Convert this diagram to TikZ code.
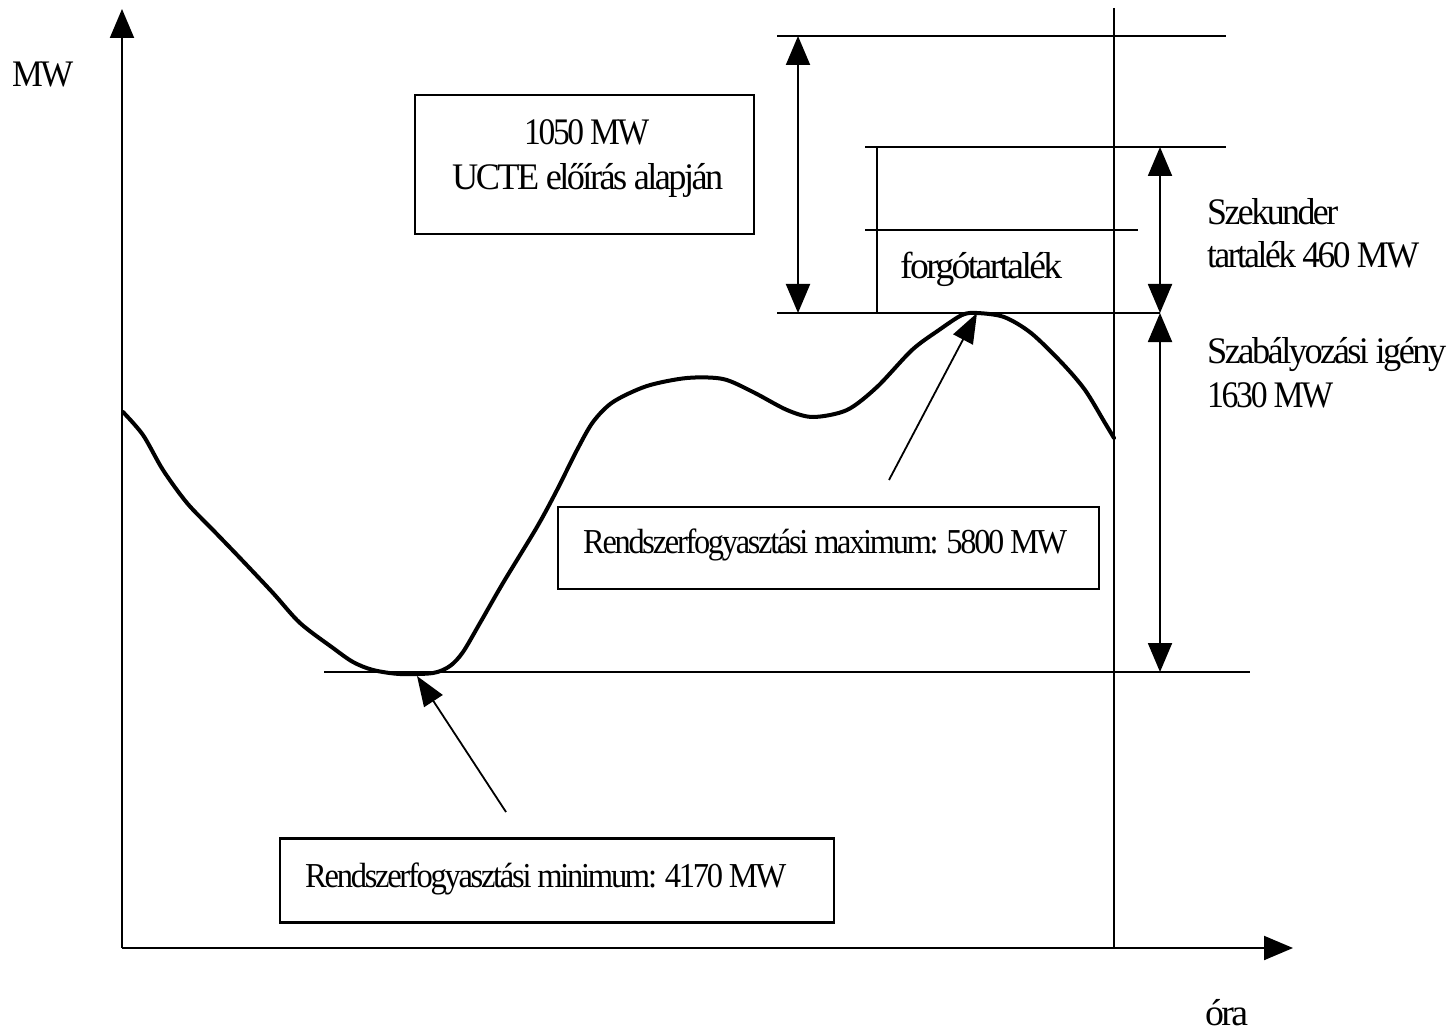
\documentclass[tikz,border=0pt]{standalone}
\usepackage{fontspec}
\setmainfont{Liberation Serif}[LetterSpace=-7]
\usetikzlibrary{arrows.meta}
\newcommand\fitw[2]{\resizebox{#1pt}{\height}{#2}}
\begin{document}
\begin{tikzpicture}[x=1pt,y=-1pt,
  rule/.style={line width=2pt},
  box/.style={draw, line width=2.5pt, inner sep=0pt},
  lbl/.style={inner sep=0pt, anchor=base west, font=\fontsize{37.5}{44}\selectfont},
  lblsmall/.style={inner sep=0pt, anchor=base west, font=\fontsize{35}{40}\selectfont},
  axisarrow/.style={line width=2pt, -{Triangle[length=29pt,width=24pt]}},
  dblarrow/.style={line width=2pt, {Triangle[length=29pt,width=24pt]}-{Triangle[length=29pt,width=24pt]}},
  ptr/.style={line width=1.8pt, -{Triangle[length=30pt,width=22pt]}},
  loadcurve/.style={line width=4pt, line join=round, line cap=round}]
\useasboundingbox (0,0) rectangle (1453,1032);
\fill[white] (0,0) rectangle (1453,1032);

% coordinates
\coordinate (O) at (122,948);
\coordinate (Ytop) at (122,9);
\coordinate (Xend) at (1293,948);
\coordinate (Vtop) at (1114,8);
\coordinate (Vbot) at (1114,948);
\coordinate (T1a) at (777,36);   \coordinate (T1b) at (1226,36);
\coordinate (T2a) at (865,147);  \coordinate (T2b) at (1226,147);
\coordinate (T3a) at (865,230);  \coordinate (T3b) at (1138,230);
\coordinate (S1) at (877,147);   \coordinate (S2) at (877,313);
\coordinate (P1a) at (777,313);  \coordinate (P1b) at (1160,313);
\coordinate (M1a) at (324,672);  \coordinate (M1b) at (1250,672);
\coordinate (A1t) at (798,36);   \coordinate (A1b) at (798,313);
\coordinate (A2t) at (1160,147); \coordinate (A2m) at (1160,313); \coordinate (A2b) at (1160,672);
\coordinate (peak) at (977,313);
\coordinate (trough) at (417,676);
\coordinate (maxtail) at (889,480);
\coordinate (mintail) at (506,812);

% axes and rules
\draw[axisarrow] (O) -- (Ytop);
\draw[axisarrow] (O) -- (Xend);
\draw[rule] (Vtop) -- (Vbot);
\draw[rule] (T1a) -- (T1b);
\draw[rule] (T2a) -- (T2b);
\draw[rule] (T3a) -- (T3b);
\draw[rule] (S1) -- (S2);
\draw[rule] (P1a) -- (P1b);
\draw[rule] (M1a) -- (M1b);

% dimension arrows
\draw[dblarrow] (A1t) -- (A1b);
\draw[dblarrow] (A2t) -- (A2m);
\draw[dblarrow] (A2m) -- (A2b);

% load curve
\draw[loadcurve] plot[smooth, tension=0.5] coordinates {
(123,412) (143,435) (163,470) (187,503) (213,530) (240,558) (273,593)
(300,623) (333,648) (353,662) (373,670) (400,674) (433,673) (450,666)
(463,652) (480,623) (503,583) (537,527) (557,490) (577,450) (593,422)
(613,402) (647,386) (687,378) (723,379) (753,392) (787,410) (813,417)
(847,410) (877,387) (912,350) (939,330) (962,315) (977,313) (1004,317)
(1031,333) (1062,363) (1085,390) (1105,423) (1114,438)};

% boxes
\node[box, minimum width=339pt, minimum height=139pt] (ucte) at (584.5,164.5) {};
\node[box, minimum width=541pt, minimum height=82pt] (maxbox) at (828.5,548) {};
\node[box, minimum width=554pt, minimum height=84pt] (minbox) at (557,880.5) {};

% pointers
\draw[ptr] (maxtail) -- (peak);
\draw[ptr] (mintail) -- (trough);

% labels
\node[lbl] (mw) at (12,87) {\fitw{61}{MW}};
\node[lbl] (ucte1) at (524,145) {\fitw{125}{1050 MW}};
\node[lbl] (ucte2) at (452,190) {\fitw{271}{UCTE előírás alapján}};
\node[lbl] (forgo) at (900,278) {\fitw{162}{forgótartalék}};
\node[lbl] (szek1) at (1207,225) {\fitw{131}{Szekunder}};
\node[lbl] (szek2) at (1207,268) {\fitw{212}{tartalék 460 MW}};
\node[lbl] (szab1) at (1207,363) {\fitw{239}{Szabályozási igény}};
\node[lbl] (szab2) at (1207,407) {\fitw{126}{1630 MW}};
\node[lblsmall] (maxtxt) at (583,553) {\fitw{484}{Rendszerfogyasztási maximum: 5800 MW}};
\node[lblsmall] (mintxt) at (305,887) {\fitw{481}{Rendszerfogyasztási minimum: 4170 MW}};
\node[lbl] (ora) at (1205,1025) {\fitw{43}{óra}};
\end{tikzpicture}
\end{document}
